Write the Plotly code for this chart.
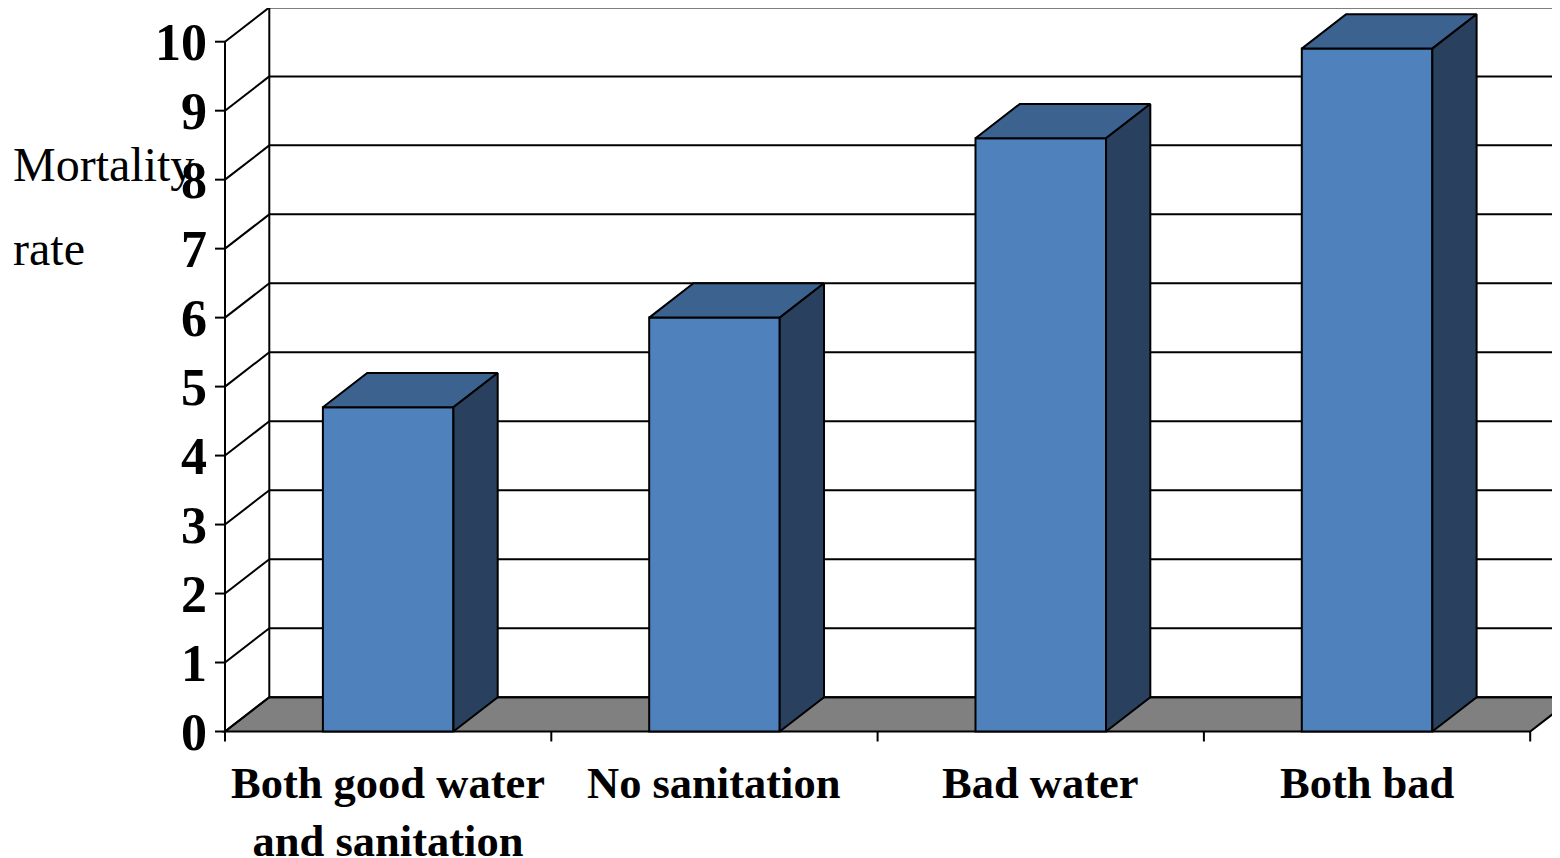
import plotly.graph_objects as go

categories = ["Both good water<br>and sanitation", "No sanitation", "Bad water", "Both bad"]
values = [4.7, 6.0, 8.6, 9.9]
y_ticks = [0, 1, 2, 3, 4, 5, 6, 7, 8, 9, 10]

FRONT = "#4F81BD"
TOP = "#3C6290"
SIDE = "#29405E"
FLOOR = "#808080"
FONT = "Liberation Serif, Times New Roman, serif"

# page body has an 8px margin; all layout pixel values below are page pixels - 8
OFF = 8
PX_X = 326.3   # pixels per category
PX_Y = 68.98   # pixels per value unit
DX = 44.3 / PX_X
DY = 34.3 / PX_Y
BAR_W = 0.4
n = len(categories)
centers = [i + 0.5 for i in range(n)]

W, H = 1560 - OFF, 858 - OFF
L_MARGIN = 208 - OFF
PLOT_BOTTOM = 745 - OFF
Y0_PIX = 731.5 - OFF
x_min = -(225 - 208) / PX_X
x_max = (1560 - 225) / PX_X
y_max = Y0_PIX / PX_Y
y_min = -(PLOT_BOTTOM - Y0_PIX) / PX_Y
tick_len_x = 10 / PX_X
tick_len_y = 10 / PX_Y

fig = go.Figure()

# front faces
fig.add_trace(go.Bar(
    x=centers, y=values, width=BAR_W,
    marker=dict(color=FRONT, line=dict(color="black", width=2)),
    hoverinfo="skip", showlegend=False,
))

# top and side faces
for c, v in zip(centers, values):
    l, r = c - BAR_W / 2, c + BAR_W / 2
    fig.add_trace(go.Scatter(
        x=[l, r, r + DX, l + DX, l], y=[v, v, v + DY, v + DY, v],
        fill="toself", fillcolor=TOP, mode="lines",
        line=dict(color="black", width=2), hoverinfo="skip", showlegend=False,
    ))
    fig.add_trace(go.Scatter(
        x=[r, r + DX, r + DX, r, r], y=[0, DY, v + DY, v, 0],
        fill="toself", fillcolor=SIDE, mode="lines",
        line=dict(color="black", width=2), hoverinfo="skip", showlegend=False,
    ))

shapes = []
line = dict(color="black", width=2)
# floor
shapes.append(dict(
    type="path", xref="x", yref="y", layer="below",
    path=f"M 0,0 L {n},0 L {n + DX},{DY} L {DX},{DY} Z",
    fillcolor=FLOOR, line=line,
))
# back wall gridlines, side wall diagonals, value ticks
for v in y_ticks:
    shapes.append(dict(type="line", xref="x", yref="y", layer="below",
                       x0=DX, x1=x_max + 1, y0=v + DY, y1=v + DY, line=line))
    shapes.append(dict(type="line", xref="x", yref="y", layer="below",
                       x0=0, x1=DX, y0=v, y1=v + DY, line=line))
    shapes.append(dict(type="line", xref="x", yref="y", layer="below",
                       x0=0, x1=-tick_len_x, y0=v, y1=v, line=line))
# back wall left edge
shapes.append(dict(type="line", xref="x", yref="y", layer="below",
                   x0=DX, x1=DX, y0=DY, y1=y_ticks[-1] + DY, line=line))
# front value axis
shapes.append(dict(type="line", xref="x", yref="y", layer="below",
                   x0=0, x1=0, y0=0, y1=y_ticks[-1], line=line))
# category boundary ticks
for b in range(n + 1):
    shapes.append(dict(type="line", xref="x", yref="y", layer="below",
                       x0=b, x1=b, y0=0, y1=-tick_len_y, line=line))

annotations = []
plot_w = W - L_MARGIN
for c, name in zip(centers, categories):
    annotations.append(dict(
        x=c, xref="x", y=(PLOT_BOTTOM - (756 - OFF)) / PLOT_BOTTOM, yref="paper",
        xanchor="center", yanchor="top", text=name, showarrow=False,
        font=dict(family=FONT, size=44.5, color="black", weight="bold"),
    ))
annotations.append(dict(
    x=(11 - OFF - L_MARGIN) / plot_w, xref="paper",
    y=(PLOT_BOTTOM - (164 - OFF)) / PLOT_BOTTOM, yref="paper",
    xanchor="left", yanchor="middle", text="Mortality", showarrow=False,
    font=dict(family=FONT, size=48, color="black"),
))
annotations.append(dict(
    x=(11 - OFF - L_MARGIN) / plot_w, xref="paper",
    y=(PLOT_BOTTOM - (249 - OFF)) / PLOT_BOTTOM, yref="paper",
    xanchor="left", yanchor="middle", text="rate", showarrow=False,
    font=dict(family=FONT, size=48, color="black"),
))

fig.update_layout(
    width=W, height=H,
    margin=dict(l=L_MARGIN, r=0, t=0, b=H - PLOT_BOTTOM),
    paper_bgcolor="white", plot_bgcolor="white",
    shapes=shapes, annotations=annotations,
    showlegend=False,
    xaxis=dict(range=[x_min, x_max], visible=False, fixedrange=True),
    yaxis=dict(
        range=[y_min, y_max], tickvals=y_ticks, ticks="", showgrid=False,
        zeroline=False, showline=False, ticklabelstandoff=0,
        tickfont=dict(family=FONT, size=52, color="black", weight="bold"),
        fixedrange=True,
    ),
)

fig.write_html("out.html")
